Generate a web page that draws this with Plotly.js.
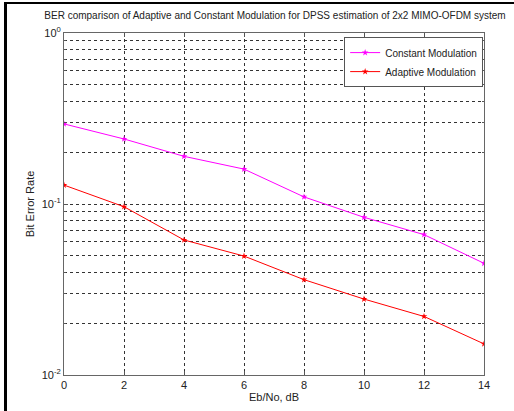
<!DOCTYPE html>
<html>
<head>
<meta charset="utf-8">
<script src="https://cdn.plot.ly/plotly-3.0.1.min.js"></script>
<style>
  html, body { margin: 0; padding: 0; background: #fff; }
  #wrap { position: relative; width: 514px; height: 411px; }
  #chart { width: 514px; height: 411px; }
  #frame { position: absolute; left: 4px; top: 2px; width: 510px; height: 409px;
           border-left: 3px solid #000; border-top: 2px solid #000; pointer-events: none; box-sizing: border-box; }
</style>
</head>
<body>
<div id="wrap">
  <div id="chart"></div>
  <div id="frame"></div>
</div>
<script>
// Data
const ebno = [0, 2, 4, 6, 8, 10, 12, 14];
const berConstant = [0.294, 0.240, 0.190, 0.160, 0.110, 0.0836, 0.0662, 0.045];
const berAdaptive = [0.129, 0.0964, 0.0616, 0.0496, 0.0361, 0.0278, 0.0220, 0.0152];

const xTicks = [0, 2, 4, 6, 8, 10, 12, 14];
const yMajorTicks = [0.01, 0.1, 1];
const yMajorLabels = ['10<sup>-2</sup>', '10<sup>-1</sup>', '10<sup>0</sup>'];
const yMinorTicks = [0.02, 0.03, 0.04, 0.05, 0.06, 0.07, 0.08, 0.09,
                     0.2, 0.3, 0.4, 0.5, 0.6, 0.7, 0.8, 0.9];

const FONT = 'Liberation Sans, Arial, sans-serif';

const traces = [
  {
    x: ebno, y: berConstant, name: 'Constant Modulation',
    type: 'scatter', mode: 'lines+markers',
    line: { color: '#ff00ff', width: 1 },
    marker: { color: '#ff00ff', symbol: 'star', size: 5 }
  },
  {
    x: ebno, y: berAdaptive, name: 'Adaptive Modulation',
    type: 'scatter', mode: 'lines+markers',
    line: { color: '#ff0000', width: 1 },
    marker: { color: '#ff0000', symbol: 'star', size: 5 }
  }
];

const layout = {
  width: 514, height: 411,
  margin: { l: 64, r: 30, t: 33, b: 36 },
  paper_bgcolor: '#ffffff', plot_bgcolor: '#ffffff',
  font: { family: FONT, size: 11, color: '#222' },
  title: {
    text: 'BER comparison of Adaptive and Constant Modulation for DPSS estimation of 2x2 MIMO-OFDM system',
    font: { family: FONT, size: 10, color: '#222' },
    x: 0.535, xanchor: 'center', y: 0.962, yanchor: 'middle'
  },
  showlegend: true,
  legend: {
    x: 0.998, xanchor: 'right', y: 0.988, yanchor: 'top',
    bgcolor: '#ffffff', bordercolor: '#555', borderwidth: 1,
    font: { family: FONT, size: 10, color: '#222' },
    tracegroupgap: 0, itemwidth: 30
  },
  xaxis: {
    range: [0, 14], tickmode: 'array', tickvals: xTicks,
    ticks: 'inside', ticklen: 4, tickcolor: '#555',
    showline: true, linecolor: '#666', linewidth: 1, mirror: 'allticks',
    showgrid: true, gridcolor: '#333', griddash: 'dot', gridwidth: 1,
    zeroline: false,
    tickfont: { family: FONT, size: 11, color: '#222' },
    title: { text: 'Eb/No, dB', font: { family: FONT, size: 11, color: '#222' }, standoff: 3 }
  },
  yaxis: {
    type: 'log', range: [-2, 0],
    tickmode: 'array', tickvals: yMajorTicks, ticktext: yMajorLabels,
    ticks: 'inside', ticklen: 4, tickcolor: '#555',
    showline: true, linecolor: '#666', linewidth: 1, mirror: 'allticks',
    showgrid: true, gridcolor: '#333', griddash: 'dot', gridwidth: 1,
    zeroline: false,
    minor: { tickmode: 'array', tickvals: yMinorTicks, ticks: 'inside', ticklen: 2, tickcolor: '#555',
             showgrid: true, gridcolor: '#333', griddash: 'dot', gridwidth: 1 },
    tickfont: { family: FONT, size: 11, color: '#222' },
    title: { text: 'Bit Error Rate', font: { family: FONT, size: 11, color: '#222' }, standoff: 4 }
  }
};

Plotly.newPlot('chart', traces, layout, { displayModeBar: false, staticPlot: true });
</script>
</body>
</html>
